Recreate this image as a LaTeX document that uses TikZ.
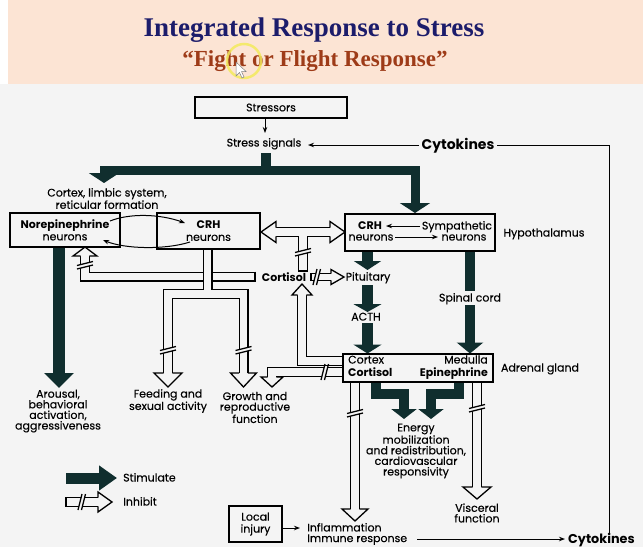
\documentclass[tikz,border=0pt]{standalone}
\usepackage{fontspec}
\setmainfont{Poppins}[UprightFeatures={FakeBold=0.3}]
\newfontfamily\titlefont{Liberation Serif}
\usetikzlibrary{arrows.meta}
\definecolor{bg}{HTML}{F4F4F4}
\definecolor{band}{HTML}{FCE4D4}
\definecolor{stimc}{HTML}{102E2E}
\definecolor{navy}{HTML}{1C1C6B}
\definecolor{rust}{HTML}{9E3B18}
\definecolor{hilite}{HTML}{F3EA5C}
\newcommand\dtext{\fontsize{11}{10.6}\selectfont}
\newcommand\btext{\fontsize{11}{12}\selectfont}
\newcommand\ctext{\fontsize{14}{14}\selectfont\bfseries}
\newcommand\cbtext{\fontsize{12.8}{13}\selectfont\bfseries}
% hollow heads: tip x, tip y, half width, length, inner offset
\newcommand\hdown[5]{%
 \fill[bg] ({#1-#3},{#2-#4}) -- (#1,#2) -- ({#1+#3},{#2-#4}) -- cycle;
 \draw[hl] ({#1-#5},{#2-#4}) -- ({#1-#3},{#2-#4}) -- (#1,#2) -- ({#1+#3},{#2-#4}) -- ({#1+#5},{#2-#4});}
\newcommand\hup[5]{%
 \fill[bg] ({#1-#3},{#2+#4}) -- (#1,#2) -- ({#1+#3},{#2+#4}) -- cycle;
 \draw[hl] ({#1-#5},{#2+#4}) -- ({#1-#3},{#2+#4}) -- (#1,#2) -- ({#1+#3},{#2+#4}) -- ({#1+#5},{#2+#4});}
\newcommand\hright[5]{%
 \fill[bg] ({#1-#4},{#2-#3}) -- (#1,#2) -- ({#1-#4},{#2+#3}) -- cycle;
 \draw[hl] ({#1-#4},{#2-#5}) -- ({#1-#4},{#2-#3}) -- (#1,#2) -- ({#1-#4},{#2+#3}) -- ({#1-#4},{#2+#5});}
\newcommand\hleft[5]{%
 \fill[bg] ({#1+#4},{#2-#3}) -- (#1,#2) -- ({#1+#4},{#2+#3}) -- cycle;
 \draw[hl] ({#1+#4},{#2-#5}) -- ({#1+#4},{#2-#3}) -- (#1,#2) -- ({#1+#4},{#2+#3}) -- ({#1+#4},{#2+#5});}
% break marks on vertical / horizontal tubes
\newcommand\brkv[2]{%
 \fill[bg] ({#1-6},{#2+2}) -- ({#1+6},{#2-1}) -- ({#1+6},{#2+2.5}) -- ({#1-6},{#2+5.5}) -- cycle;
 \draw[hl] ({#1-8},{#2+2.5}) -- ({#1+8},{#2-1.5});
 \draw[hl] ({#1-8},{#2+6}) -- ({#1+8},{#2+2});}
\newcommand\brkh[2]{%
 \fill[bg] ({#1-2.5},{#2+6}) -- ({#1+0.5},{#2-6}) -- ({#1+4},{#2-6}) -- ({#1+1},{#2+6}) -- cycle;
 \draw[hl] ({#1-3},{#2+8}) -- ({#1+1},{#2-8});
 \draw[hl] ({#1+0.5},{#2+8}) -- ({#1+4.5},{#2-8});}
\begin{document}
\begin{tikzpicture}[x=1pt,y=-1pt,
  txt/.style={inner sep=0pt, font=\dtext, align=center},
  btxt/.style={inner sep=0pt, font=\dtext\bfseries, align=center},
  ctxt/.style={inner sep=0pt, font=\ctext},
  bx/.style={draw, line width=1.2pt, inner sep=0pt, align=center, font=\btext},
  hl/.style={line width=1.3pt, line join=miter, line cap=butt},
  tubeo/.style={line width=10pt, line join=miter, line cap=butt, draw=black},
  tubei/.style={line width=7.4pt, line join=miter, line cap=butt, draw=bg},
  stim/.style={draw=stimc, line width=10pt, line join=miter, line cap=butt},
  thin/.style={line width=1pt, -{Stealth[length=6pt,width=4.5pt]}}]
\useasboundingbox (0,0) rectangle (643,547);
\fill[bg] (0,0) rectangle (643,547);
\fill[white] (0,0) rectangle (8,84);
\fill[band] (8,0) rectangle (643,84);
\node[inner sep=0pt, font=\titlefont\bfseries\fontsize{27}{27}\selectfont, text=navy] (title) at (314,30) {Integrated Response to Stress};
\node[inner sep=0pt, font=\titlefont\bfseries\fontsize{23}{23}\selectfont, text=rust] (subtitle) at (315,61) {“Fight or Flight Response”};
\draw[hilite, line width=2.5pt, opacity=0.85] (244,61) circle[radius=17];
\filldraw[fill=white, draw=gray, line width=0.5pt] (236,62) -- (236,76) -- (239.5,72.5) -- (242,78) -- (244,77) -- (241.5,71.5) -- (246,71.5) -- cycle;

% boxes
\node[bx, minimum width=152pt, minimum height=21pt] (stressors) at (271,107.5) {Stressors};
\node[bx, minimum width=110pt, minimum height=34pt] (norepi) at (65,230) {\textbf{Norepinephrine}\\neurons};
\node[bx, minimum width=103pt, minimum height=36pt] (crhl) at (208.5,231) {\textbf{CRH}\\neurons};
\node[bx, minimum width=150pt, minimum height=37pt] (hyp) at (420,232.5) {};
\node[bx, minimum width=150pt, minimum height=28pt] (adrenal) at (418,368) {};
\node[bx, minimum width=53pt, minimum height=36pt] (injury) at (255.5,524) {Local\\injury};

% texts
\node[txt, anchor=base] (stress) at (264,146.5) {Stress signals};
\node[ctxt, anchor=base] (cyttop) at (458,149.5) {Cytokines};
\node[txt] (cortex) at (107,198.5) {Cortex, limbic system,\\reticular formation};
\node[btxt, anchor=base] (hcrh) at (370,229.5) {CRH};
\node[txt, anchor=base] (hneur1) at (371,240.5) {neurons};
\node[txt, anchor=base] (symp) at (457,229.5) {Sympathetic};
\node[txt, anchor=base] (hneur2) at (464,240.5) {neurons};
\node[txt, anchor=base] (hypo) at (544,236.5) {Hypothalamus};
\node[btxt, anchor=base] (cortisol) at (284,281.5) {Cortisol};
\node[txt, anchor=base] (pit) at (368,280.5) {Pituitary};
\node[txt, anchor=base] (spinal) at (470,301.5) {Spinal cord};
\node[txt, anchor=base] (acth) at (366,320.5) {ACTH};
\node[txt, anchor=base west] (acortex) at (348,363.5) {Cortex};
\node[btxt, anchor=base west] (acortisol) at (348,376.5) {Cortisol};
\node[txt, anchor=base east] (amed) at (488,363.5) {Medulla};
\node[btxt, anchor=base east] (aepi) at (488,376.5) {Epinephrine};
\node[txt, anchor=base] (agland) at (540,371.5) {Adrenal gland};
\node[txt] (arousal) at (58,411) {Arousal,\\behavioral\\activation,\\aggressiveness};
\node[txt] (feeding) at (168,401) {Feeding and\\sexual activity};
\node[txt] (growth) at (255,407.5) {Growth and\\reproductive\\function};
\node[txt] (energy) at (416,451) {Energy\\mobilization\\and redistribution,\\cardiovascular\\responsivity};
\node[txt] (visceral) at (477,513) {Visceral\\function};
\node[txt, anchor=west, align=left] (inflam) at (307,534) {Inflammation\\Immune response};
\node[inner sep=0pt, font=\cbtext, anchor=base west] (cytbot) at (568,543.5) {Cytokines};
\node[txt, anchor=base west] (stimlbl) at (123,481.5) {Stimulate};
\node[txt, anchor=base west] (inhlbl) at (123,505.5) {Inhibit};

% thin connectors
\draw[thin] (265,118) -- (265,133);
\draw[thin] (419,145) -- (308,145);
\draw[line width=1pt] (497,145) -- (609,145) -- (609,533);
\draw[thin] (417,539) -- (565,539);
\draw[thin] (injury.east |- 0,528) -- (300,528);
\draw[thin] (110,221) .. controls (130,213) and (160,214) .. (185,223);
\draw[thin] (190,242) .. controls (165,250) and (125,249) .. (103,240);
\draw[thin] (420,226) -- (386,226);
\draw[thin] (395,237) -- (438,237);

% stimulate arrows
\draw[stim] (266,153) -- (266,170);
\draw[stim, line width=9pt, {Triangle[width=30pt,length=10pt]}-{Triangle[width=30pt,length=10pt]}] (104,183) -- (104,170) -- (415,170) -- (415,213);
\draw[stim, line width=12pt, -{Triangle[width=29pt,length=15pt]}] (59,247.5) -- (59,388);
\draw[stim, line width=11pt, -{Triangle[width=27pt,length=9pt]}] (367.5,251) -- (367.5,270);
\draw[stim, line width=11pt, -{Triangle[width=28pt,length=8pt]}] (367.5,285) -- (367.5,312);
\draw[stim, line width=11pt, -{Triangle[width=28pt,length=9pt]}] (367.5,323) -- (367.5,353.5);
\draw[stim] (470,251) -- (470,291);
\draw[stim, -{Triangle[width=26pt,length=11pt]}] (470,305) -- (470,353.5);
\draw[stim, -{Triangle[width=25pt,length=10pt]}] (376,382) -- (376,394) -- (404,394) -- (404,419);
\draw[stim, -{Triangle[width=25pt,length=10pt]}] (459,382) -- (459,394) -- (431,394) -- (431,419);
\draw[stim, line width=11pt, -{Triangle[width=24pt,length=18pt]}] (66,478) -- (117,478);

% inhibit: cortisol -> norepinephrine
\draw[tubeo] (255,276.5) -- (85,276.5) -- (85,256);
\draw[tubei] (255,276.5) -- (85,276.5) -- (85,256);
\draw[hl] (255,271.5) -- (255,281.5);
\hup{85}{247}{12}{9}{4.35}
\brkv{85}{263}
% CRH neurons fork
\draw[tubeo] (207.5,249) -- (207.5,294) (168,373) -- (168,294) -- (243.5,294) -- (243.5,373);
\draw[tubei] (207.5,249) -- (207.5,294) (168,373) -- (168,294) -- (243.5,294) -- (243.5,373);
\hdown{168}{387}{14}{14}{4.35}
\hdown{243.5}{387}{13}{14}{4.35}
\brkv{168}{348}
\brkv{243.5}{348}
% double-headed inhibit between CRH boxes, with T to cortisol
\draw[tubeo] (276,232) -- (331,232) (303,232) -- (303,271);
\draw[tubei] (276,232) -- (331,232) (303,232) -- (303,271);
\draw[hl] (298,271) -- (308,271);
\hleft{261}{232}{10.5}{15}{4.35}
\hright{345}{232}{10.5}{15}{4.35}
\brkv{303}{250}
% cortisol -> pituitary
\draw[tubeo, line width=8pt] (311,277) -- (331,277);
\draw[tubei, line width=5.4pt] (311,277) -- (331,277);
\draw[hl] (311,273) -- (311,281);
\hright{344}{277}{7.5}{13}{3.35}
\brkh{316}{277}
% adrenal cortex -> cortisol (up)
\draw[tubeo] (343,361) -- (302,361) -- (302,295);
\draw[tubei] (343,361) -- (302,361) -- (302,295);
\hup{302}{284}{10}{11}{4.35}
% adrenal cortex -> growth
\draw[tubeo] (343,372) -- (272,372) -- (272,377);
\draw[tubei] (343,372) -- (272,372) -- (272,377);
\hdown{272}{387}{11}{10}{4.35}
\brkh{324}{372}
% adrenal -> inflammation
\draw[tubeo] (355,382) -- (355,509);
\draw[tubei] (355,382) -- (355,509);
\hdown{355}{521}{13}{12}{4.35}
\brkv{355}{411}
% adrenal -> visceral
\draw[tubeo] (477,382) -- (477,487);
\draw[tubei] (477,382) -- (477,487);
\hdown{477}{499}{14}{12}{4.35}
\brkv{477}{406}
% legend inhibit
\draw[tubeo] (66,502) -- (98,502);
\draw[tubei] (66,502) -- (98,502);
\draw[hl] (66,497) -- (66,507);
\hright{112}{502}{10}{14}{4.35}
\brkh{81}{502}
% redraw box borders on top
\draw[line width=1.2pt] (adrenal.north west) rectangle (adrenal.south east);
\draw[line width=1.2pt] (hyp.north west) rectangle (hyp.south east);
\draw[line width=1.2pt] (crhl.north west) rectangle (crhl.south east);
\draw[line width=1.2pt] (norepi.north west) rectangle (norepi.south east);
\end{tikzpicture}
\end{document}
